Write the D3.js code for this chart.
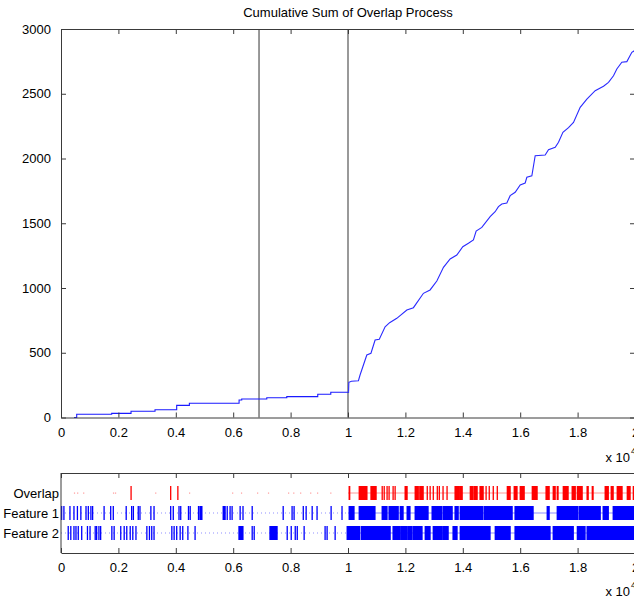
<!DOCTYPE html>
<html>
<head>
<meta charset="utf-8">
<script src="https://cdn.jsdelivr.net/npm/d3@7"></script>
<style>
html,body{margin:0;padding:0;background:#fff;}
svg{display:block;font-family:"Liberation Sans",Arial,Helvetica,sans-serif;}
</style>
</head>
<body>
<script>
// ---------- DATA ----------
const title = "Cumulative Sum of Overlap Process";
const yTicksMain = [0, 500, 1000, 1500, 2000, 2500, 3000];
const xTicks = [0, 2000, 4000, 6000, 8000, 10000, 12000, 14000, 16000, 18000, 20000];
const markerLines = [6900, 10000];
// cumulative sum, step part (before the change point)
const cumSteps = [[453,0],[547,25],[1766,32],[2440,48],[3276,60],[4031,94],[4473,110],[6205,135],[6297,143],[7170,153],[7867,161],[8946,179],[9400,195],[10020,199]];
// cumulative sum, dense part (after the change point)
const cumDense = [[10020,199],[10030,272],[10120,280],[10363,284],[10420,328],[10655,483],[10800,496],[10944,598],[11090,604],[11293,701],[11450,732],[11700,766],[12050,830],[12280,848],[12628,959],[12860,985],[13095,1054],[13326,1160],[13559,1224],[13791,1255],[14000,1319],[14196,1345],[14370,1371],[14465,1440],[14663,1468],[14953,1551],[15127,1589],[15242,1628],[15360,1649],[15535,1656],[15650,1713],[15825,1739],[16000,1795],[16173,1811],[16232,1855],[16406,1867],[16522,2022],[16870,2027],[16986,2068],[17220,2087],[17335,2125],[17488,2202],[17683,2238],[17857,2279],[18090,2395],[18323,2459],[18613,2524],[18903,2558],[19077,2588],[19251,2639],[19367,2691],[19541,2743],[19716,2748],[19890,2820],[20000,2835]];

const rowNames = ["Overlap", "Feature 1", "Feature 2"];
// events as [start, end] in units of x 10^4
const overlapEvents = [[0.244,0.244],[0.382,0.382],[0.407,0.407],[1.004,1.006],[1.039,1.066],[1.080,1.098],[1.119,1.119],[1.126,1.126],[1.136,1.136],[1.143,1.143],[1.157,1.157],[1.164,1.164],[1.199,1.206],[1.234,1.245],[1.250,1.262],[1.276,1.276],[1.286,1.286],[1.297,1.297],[1.311,1.311],[1.318,1.318],[1.331,1.331],[1.345,1.345],[1.373,1.385],[1.389,1.398],[1.426,1.436],[1.440,1.450],[1.460,1.471],[1.481,1.481],[1.492,1.492],[1.506,1.506],[1.520,1.520],[1.555,1.565],[1.579,1.589],[1.600,1.614],[1.642,1.659],[1.690,1.701],[1.715,1.722],[1.729,1.732],[1.750,1.767],[1.781,1.792],[1.799,1.816],[1.833,1.837],[1.851,1.854],[1.896,1.907],[1.917,1.924],[1.938,1.955],[1.973,1.983],[1.994,1.998]];
const overlapDots = [0.045,0.056,0.077,0.181,0.188,0.328,0.446,0.596,0.627,0.683,0.721,0.791,0.809,0.833,0.868,0.892,0.938];
const feature1Events = [[0.002,0.002],[0.010,0.010],[0.031,0.031],[0.045,0.045],[0.057,0.057],[0.069,0.069],[0.087,0.087],[0.095,0.095],[0.104,0.104],[0.110,0.110],[0.150,0.150],[0.173,0.173],[0.182,0.182],[0.227,0.227],[0.246,0.246],[0.252,0.252],[0.269,0.269],[0.275,0.275],[0.313,0.313],[0.324,0.324],[0.382,0.382],[0.391,0.391],[0.411,0.411],[0.417,0.417],[0.444,0.444],[0.450,0.450],[0.479,0.479],[0.484,0.491],[0.565,0.572],[0.579,0.579],[0.589,0.589],[0.596,0.596],[0.624,0.624],[0.634,0.634],[0.666,0.666],[0.774,0.774],[0.805,0.805],[0.812,0.812],[0.844,0.844],[0.854,0.854],[0.875,0.875],[0.892,0.892],[0.941,0.941],[0.979,0.979],[1.004,1.021],[1.039,1.094],[1.119,1.136],[1.143,1.175],[1.182,1.192],[1.206,1.216],[1.234,1.279],[1.293,1.326],[1.331,1.363],[1.373,1.384],[1.391,1.470],[1.475,1.572],[1.582,1.645],[1.694,1.701],[1.729,1.800],[1.805,1.879],[1.889,1.907],[1.924,1.997]];
const feature2Events = [[0.025,0.025],[0.034,0.034],[0.045,0.045],[0.052,0.052],[0.060,0.060],[0.072,0.072],[0.092,0.092],[0.101,0.101],[0.119,0.119],[0.124,0.124],[0.132,0.132],[0.138,0.138],[0.177,0.177],[0.185,0.185],[0.208,0.208],[0.220,0.220],[0.229,0.229],[0.241,0.241],[0.250,0.250],[0.261,0.261],[0.299,0.299],[0.308,0.308],[0.316,0.316],[0.324,0.324],[0.386,0.386],[0.394,0.394],[0.403,0.403],[0.415,0.415],[0.424,0.424],[0.442,0.442],[0.467,0.467],[0.620,0.634],[0.666,0.666],[0.673,0.673],[0.728,0.753],[0.788,0.788],[0.802,0.802],[0.816,0.816],[0.823,0.823],[0.847,0.847],[0.920,0.920],[0.927,0.927],[0.955,0.955],[0.997,1.040],[1.046,1.147],[1.157,1.182],[1.185,1.206],[1.209,1.223],[1.227,1.258],[1.269,1.286],[1.297,1.328],[1.331,1.349],[1.366,1.380],[1.391,1.495],[1.513,1.565],[1.582,1.704],[1.715,1.785],[1.799,1.826],[1.833,1.997]];
const rowColors = ["#ff0000", "#0000ff", "#0000ff"];
const rowDotColors = ["#ff9a9a", "#8f8fff", "#8f8fff"];

// ---------- DRAW ----------
const W = 634, H = 599;
const svg = d3.select("body").append("svg").attr("width", W).attr("height", H);
svg.append("rect").attr("width", W).attr("height", H).attr("fill", "#fff");

const L = 61, R = 635;
const axisColor = "#3a3a3a";
const fs = 13;

// main panel
const mTop = 29, mBot = 417.5;
const x = d3.scaleLinear().domain([0, 20000]).range([L, R]);
const y = d3.scaleLinear().domain([0, 3000]).range([mBot, mTop]);

svg.append("text").attr("x", (L + R) / 2).attr("y", 17).attr("text-anchor", "middle")
  .attr("font-size", 13).attr("fill", "#000").text(title);

const gMain = svg.append("g");

// marker lines
gMain.selectAll("line.marker").data(markerLines).enter().append("line")
  .attr("x1", d => x(d)).attr("x2", d => x(d)).attr("y1", mTop).attr("y2", mBot)
  .attr("stroke", (d, i) => i === 0 ? "#333" : "#999").attr("stroke-width", (d, i) => i === 0 ? 1 : 2);

// curves
gMain.append("path").datum(cumSteps)
  .attr("d", d3.line().x(d => x(d[0])).y(d => y(d[1])).curve(d3.curveStepAfter))
  .attr("fill", "none").attr("stroke", "#1a1aff").attr("stroke-width", 1.1);
gMain.append("path").datum(cumDense)
  .attr("d", d3.line().x(d => x(d[0])).y(d => y(d[1])).curve(d3.curveLinear))
  .attr("fill", "none").attr("stroke", "#2a2aff").attr("stroke-width", 1.1);

// axes (MATLAB style, inward ticks on all sides)
const fmtX = d => d3.format("")(+(d / 10000).toFixed(1));
const axB = d3.axisBottom(x).tickValues(xTicks).tickSizeInner(-5).tickSizeOuter(0).tickPadding(10).tickFormat(fmtX);
const axT = d3.axisTop(x).tickValues(xTicks).tickSizeInner(-5).tickSizeOuter(0).tickFormat("");
const axL = d3.axisLeft(y).tickValues(yTicksMain).tickSizeInner(-5).tickSizeOuter(0).tickPadding(10).tickFormat(d3.format("d"));
const axR = d3.axisRight(y).tickValues(yTicksMain).tickSizeInner(-5).tickSizeOuter(0).tickFormat("");

function styleAxis(g) {
  g.selectAll("path.domain").attr("stroke", axisColor);
  g.selectAll(".tick line").attr("stroke", axisColor);
  g.selectAll("text").attr("font-size", fs).attr("fill", "#000").attr("font-family", '"Liberation Sans",Arial,sans-serif');
}
styleAxis(svg.append("g").attr("transform", `translate(0,${mBot})`).call(axB));
styleAxis(svg.append("g").attr("transform", `translate(0,${mTop})`).call(axT));
styleAxis(svg.append("g").attr("transform", `translate(${L},0)`).call(axL));
styleAxis(svg.append("g").attr("transform", `translate(${R},0)`).call(axR));

function expLabel(yBase) {
  const t = svg.append("text").attr("x", 630).attr("y", yBase).attr("text-anchor", "end")
    .attr("font-size", 13).attr("fill", "#000").text("x 10");
  svg.append("text").attr("x", 631).attr("y", yBase - 8).attr("font-size", 9).attr("fill", "#000").text("4");
}
expLabel(462);

// lower panel
const lTop = 473, lBot = 553;
const xl = d3.scaleLinear().domain([0, 2]).range([L, R]);
const yl = d3.scaleLinear().domain([0, 4]).range([lTop, lBot]);
const rows = [overlapEvents, feature1Events, feature2Events];
const gLow = svg.append("g");

// faint baselines
[1, 2].forEach(i => {
  gLow.append("line").attr("x1", xl(0)).attr("x2", xl(1.0)).attr("y1", yl(i + 1)).attr("y2", yl(i + 1))
    .attr("stroke", rowDotColors[i]).attr("stroke-width", 1).attr("stroke-dasharray", "1,3");
  gLow.append("line").attr("x1", xl(1.0)).attr("x2", xl(2)).attr("y1", yl(i + 1)).attr("y2", yl(i + 1))
    .attr("stroke", rowDotColors[i]).attr("stroke-width", 1);
});
gLow.append("line").attr("x1", xl(1.0)).attr("x2", xl(2)).attr("y1", yl(1)).attr("y2", yl(1))
  .attr("stroke", rowDotColors[0]).attr("stroke-width", 1);
gLow.selectAll("rect.dot").data(overlapDots).enter().append("rect")
  .attr("x", d => xl(d)).attr("y", yl(1) - 0.5).attr("width", 1.2).attr("height", 1.2)
  .attr("fill", rowDotColors[0]);

rows.forEach((evs, i) => {
  gLow.selectAll(null).data(evs).enter().append("rect")
    .attr("x", d => xl(d[0]) - 0.6)
    .attr("width", d => Math.max(1.3, xl(d[1]) - xl(d[0]) + 1.2))
    .attr("y", yl(i + 1 - 0.35))
    .attr("height", yl(i + 1 + 0.35) - yl(i + 1 - 0.35))
    .attr("fill", rowColors[i]);
});

// row labels
svg.selectAll("text.row").data(rowNames).enter().append("text")
  .attr("x", 59).attr("y", (d, i) => yl(i + 1)).attr("dy", "0.35em").attr("text-anchor", "end")
  .attr("font-size", 13).attr("fill", "#000").text(d => d);

const xlTicks = xTicks.map(d => d / 10000);
const lB = d3.axisBottom(xl).tickValues(xlTicks).tickSizeInner(-5).tickSizeOuter(0).tickPadding(10).tickFormat(d => d3.format("")(+d.toFixed(1)));
const lT = d3.axisTop(xl).tickValues(xlTicks).tickSizeInner(-5).tickSizeOuter(0).tickFormat("");
styleAxis(svg.append("g").attr("transform", `translate(0,${lBot})`).call(lB));
styleAxis(svg.append("g").attr("transform", `translate(0,${lTop})`).call(lT));
svg.append("line").attr("x1", L).attr("x2", L).attr("y1", lTop).attr("y2", lBot).attr("stroke", axisColor);
svg.append("line").attr("x1", R).attr("x2", R).attr("y1", lTop).attr("y2", lBot).attr("stroke", axisColor);
expLabel(596);
</script>
</body>
</html>
